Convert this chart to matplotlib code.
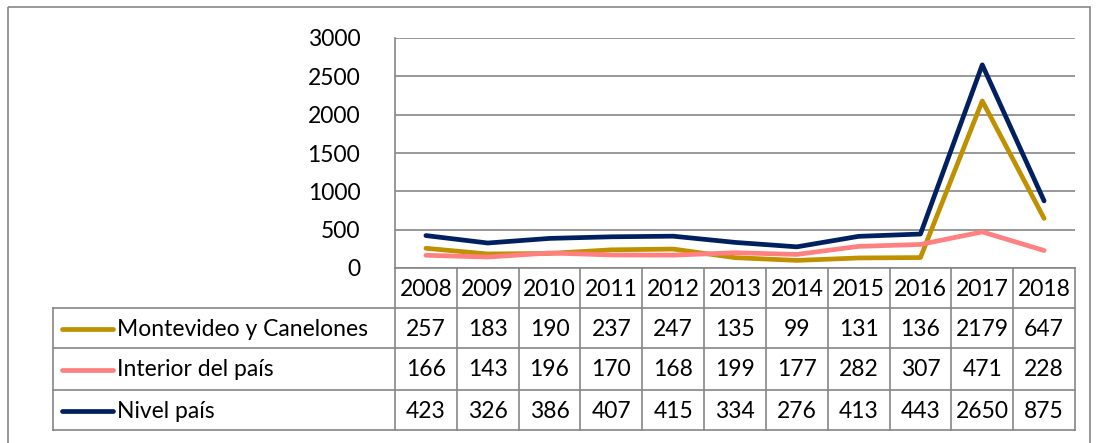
import numpy as np
import matplotlib.pyplot as plt
from matplotlib.lines import Line2D
from matplotlib.patches import Rectangle

years = ['2008', '2009', '2010', '2011', '2012', '2013', '2014', '2015', '2016', '2017', '2018']
montevideo = [257, 183, 190, 237, 247, 135, 99, 131, 136, 2179, 647]
interior = [166, 143, 196, 170, 168, 199, 177, 282, 307, 471, 228]
pais = [423, 326, 386, 407, 415, 334, 276, 413, 443, 2650, 875]

names = ['Montevideo y Canelones', 'Interior del país', 'Nivel país']
colors = ['#BF9000', '#FF8080', '#002060']
series = [montevideo, interior, pais]

W, H = 1098, 443
FS = 16.5
plt.rcParams['font.family'] = ['Lato', 'DejaVu Sans']
fig = plt.figure(figsize=(W / 100, H / 100), dpi=100)

def fax(x0, y0, x1, y1):
    # pixel box (top-left origin) -> figure axes
    return fig.add_axes([x0 / W, 1 - y1 / H, (x1 - x0) / W, (y1 - y0) / H])

# outer chart border
bg = fax(0, 0, W, H)
bg.set_xlim(0, W)
bg.set_ylim(H, 0)
bg.axis('off')
bg.add_patch(Rectangle((8, 7), W - 16, H + 10, fill=False, ec='#868686', lw=1.2))

# plot area
px0, px1, py0, py1 = 395, 1075, 38, 268
ax = fax(px0, py0, px1, py1)
x = np.arange(len(years))
for vals, c in zip(series, colors):
    ax.plot(x, vals, color=c, lw=3.4, solid_capstyle='round', solid_joinstyle='round', zorder=3)
ax.set_xlim(-0.5, len(years) - 0.5)
ax.set_ylim(0, 3000)
ax.set_yticks(range(0, 3001, 500))
ax.yaxis.grid(True, color='#868686', lw=1.2)
ax.set_axisbelow(True)
ax.set_xticks([])
for s in ['top', 'right', 'bottom']:
    ax.spines[s].set_visible(False)
ax.spines['left'].set_color('#868686')
ax.spines['left'].set_linewidth(1.2)
ax.tick_params(axis='y', length=0, labelsize=FS, pad=25, colors='black')
ax.patch.set_alpha(0)

# data table
tx0 = 53
rows_y = [268, 308, 348, 390, 430]
tb = fax(0, 0, W, H)
tb.set_xlim(0, W)
tb.set_ylim(H, 0)
tb.axis('off')
gc = '#868686'
colw = (px1 - px0) / len(years)
# vertical lines
for i in range(len(years) + 1):
    tb.plot([px0 + i * colw] * 2, [rows_y[0], rows_y[-1]], color=gc, lw=1.2)
tb.plot([tx0, tx0], [rows_y[1], rows_y[-1]], color=gc, lw=1.2)
# horizontal lines
tb.plot([px0, px1], [rows_y[0]] * 2, color=gc, lw=1.2)
for yy in rows_y[1:]:
    tb.plot([tx0, px1], [yy, yy], color=gc, lw=1.2)
for i, yr in enumerate(years):
    tb.text(px0 + (i + 0.5) * colw, (rows_y[0] + rows_y[1]) / 2 + 1, yr,
            ha='center', va='center', fontsize=FS)
for r, (name, c, vals) in enumerate(zip(names, colors, series)):
    yc = (rows_y[r + 1] + rows_y[r + 2]) / 2 + 1
    tb.add_line(Line2D([62, 113], [yc, yc], color=c, lw=3.4, solid_capstyle='round'))
    tb.text(117, yc, name, ha='left', va='center', fontsize=FS)
    for i, v in enumerate(vals):
        tb.text(px0 + (i + 0.5) * colw, yc, str(v), ha='center', va='center', fontsize=FS)

fig.savefig('out.png', dpi=100)
